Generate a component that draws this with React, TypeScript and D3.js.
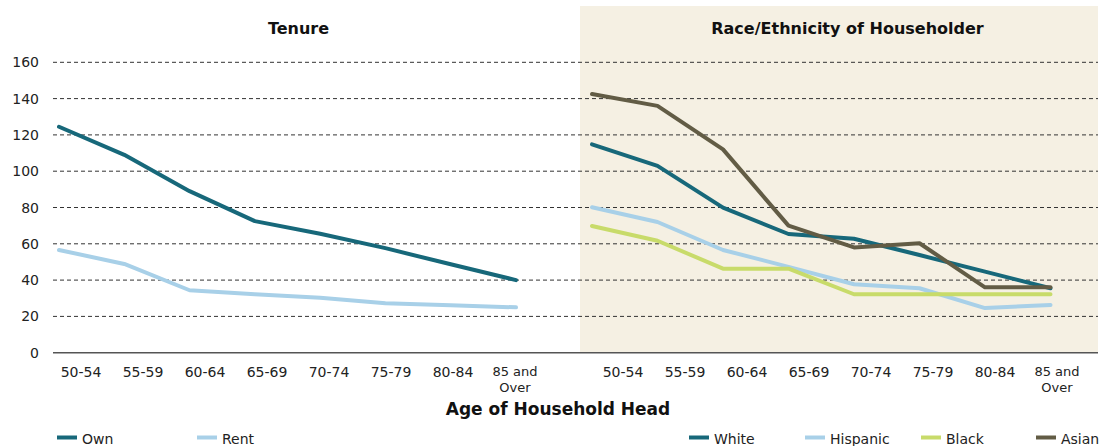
import React, { useEffect } from "react";
import * as d3 from "d3";

const ageGroups = ["50-54", "55-59", "60-64", "65-69", "70-74", "75-79", "80-84", "85 and Over"];
const yTicks = [0, 20, 40, 60, 80, 100, 120, 140, 160];

const own = [124.5, 109, 89, 72.5, 65.5, 57.6, 48.7, 40];
const rent = [56.6, 48.9, 34.4, 32.2, 30.3, 27.2, 26.1, 25.0];

const white = [114.8, 102.9, 79.9, 65.4, 62.8, 53.8, 44.7, 35.5];
const hispanic = [80.1, 72, 56.6, 47.3, 37.7, 35.5, 24.6, 26.3];
const black = [69.8, 61.7, 46.3, 46.3, 32.2, 32.2, 32.2, 32.2];
const asian = [142.5, 136, 112, 70, 58, 60.3, 36, 36];

const C_TEAL = "#17687a";
const C_LIGHT = "#a8d0e8";
const C_GREEN = "#c8db6a";
const C_OLIVE = "#625c45";
const FONT = "'DejaVu Sans', sans-serif";

export default function App() {
  useEffect(() => {
    document.body.style.margin = "0";
  }, []);

  const W = 1104, H = 446;
  const y = d3.scaleLinear().domain([0, 160]).range([352.7, 62.3]);
  const xL = d3.scalePoint<string>().domain(ageGroups).range([59, 516]);
  const xR = d3.scalePoint<string>().domain(ageGroups).range([592, 1050.5]);
  const lblL = d3.scalePoint<string>().domain(ageGroups).range([81, 515]);
  const lblR = d3.scalePoint<string>().domain(ageGroups).range([623, 1057]);

  const lineGen = (xs: d3.ScalePoint<string>) =>
    d3
      .line<number>()
      .x((_, i) => xs(ageGroups[i]) as number)
      .y((d) => y(d));

  const leftSeries = [
    { name: "Own", values: own, color: C_TEAL },
    { name: "Rent", values: rent, color: C_LIGHT },
  ];
  const rightSeries = [
    { name: "Hispanic", values: hispanic, color: C_LIGHT },
    { name: "Black", values: black, color: C_GREEN },
    { name: "White", values: white, color: C_TEAL },
    { name: "Asian", values: asian, color: C_OLIVE },
  ];

  const legendLeft = [
    { name: "Own", color: C_TEAL, x: 57 },
    { name: "Rent", color: C_LIGHT, x: 197 },
  ];
  const legendRight = [
    { name: "White", color: C_TEAL, x: 689 },
    { name: "Hispanic", color: C_LIGHT, x: 805 },
    { name: "Black", color: C_GREEN, x: 921 },
    { name: "Asian", color: C_OLIVE, x: 1036 },
  ];

  const renderLabels = (s: d3.ScalePoint<string>, side: string) =>
    ageGroups.map((g) => {
      const cx = s(g) as number;
      if (g === "85 and Over") {
        return (
          <g key={side + g}>
            <text x={cx} y={376} textAnchor="middle" fontSize={13} fill="#222" fontFamily={FONT}>
              85 and
            </text>
            <text x={cx} y={391.5} textAnchor="middle" fontSize={13} fill="#222" fontFamily={FONT}>
              Over
            </text>
          </g>
        );
      }
      return (
        <text key={side + g} x={cx} y={377} textAnchor="middle" fontSize={14} fill="#222" fontFamily={FONT}>
          {g}
        </text>
      );
    });

  return (
    <svg
      width={W}
      height={H}
      style={{ position: "absolute", left: 0, top: 0, background: "#fff" }}
      fontFamily={FONT}
    >
      <rect x={580} y={6} width={518} height={y(0) - 6} fill="#f5f0e3" />

      {yTicks
        .filter((t) => t > 0)
        .map((t) => (
          <line
            key={t}
            x1={53}
            x2={1098}
            y1={y(t)}
            y2={y(t)}
            stroke="#333"
            strokeWidth={1}
            strokeDasharray="4,3"
          />
        ))}
      <line x1={53} x2={1098} y1={y(0)} y2={y(0)} stroke="#555" strokeWidth={1.5} />

      {yTicks.map((t) => (
        <text key={t} x={39} y={y(t) + 5} textAnchor="end" fontSize={14} fill="#222">
          {t}
        </text>
      ))}

      <text x={298.5} y={34} textAnchor="middle" fontSize={16} fontWeight="bold" fill="#111">
        Tenure
      </text>
      <text x={847.5} y={34} textAnchor="middle" fontSize={16} fontWeight="bold" fill="#111">
        Race/Ethnicity of Householder
      </text>

      {leftSeries.map((s) => (
        <path
          key={s.name}
          d={lineGen(xL)(s.values) || ""}
          fill="none"
          stroke={s.color}
          strokeWidth={4}
          strokeLinejoin="round"
          strokeLinecap="round"
        />
      ))}
      {rightSeries.map((s) => (
        <path
          key={s.name}
          d={lineGen(xR)(s.values) || ""}
          fill="none"
          stroke={s.color}
          strokeWidth={4}
          strokeLinejoin="round"
          strokeLinecap="round"
        />
      ))}

      {renderLabels(lblL, "L")}
      {renderLabels(lblR, "R")}

      <text x={558} y={415} textAnchor="middle" fontSize={17} fontWeight="bold" fill="#111">
        Age of Household Head
      </text>

      {[...legendLeft, ...legendRight].map((l) => (
        <g key={l.name}>
          <line x1={l.x} x2={l.x + 20} y1={437.5} y2={437.5} stroke={l.color} strokeWidth={4} />
          <text x={l.x + 25} y={443.5} fontSize={14} fill="#222">
            {l.name}
          </text>
        </g>
      ))}
    </svg>
  );
}
